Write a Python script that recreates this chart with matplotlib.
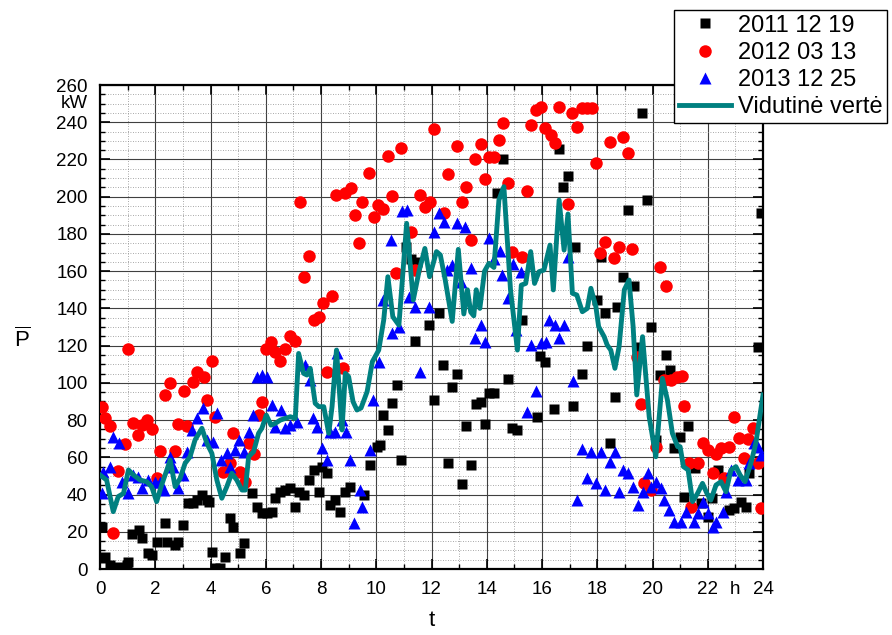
import matplotlib
matplotlib.use("Agg")
import matplotlib.pyplot as plt
from matplotlib.ticker import MultipleLocator
from matplotlib.lines import Line2D

plt.rcParams['font.family'] = ['Liberation Sans', 'DejaVu Sans']
plt.rcParams['mathtext.fontset'] = 'custom'
plt.rcParams['mathtext.rm'] = 'Liberation Sans'

# ---- data (t in h, P in kW) ----
t_2011 = [0.06, 0.12, 0.18, 0.36, 0.66, 0.97, 1.03, 1.15, 1.4, 1.51, 1.75, 1.87, 2.05, 2.36, 2.42, 2.72, 2.84,
          3.02, 3.2, 3.38, 3.5, 3.69, 3.87, 3.93, 4.05, 4.17, 4.35, 4.53, 4.71, 4.83, 5.08, 5.2, 5.5, 5.68, 5.86,
          6.04, 6.22, 6.34, 6.53, 6.71, 6.89, 7.07, 7.19, 7.37, 7.55, 7.73, 7.92, 8.04, 8.22, 8.34, 8.52, 8.7,
          8.88, 9.06, 9.55, 9.77, 10.03, 10.13, 10.25, 10.42, 10.58, 10.76, 10.9, 11.09, 11.24, 11.42, 11.46,
          11.92, 12.09, 12.27, 12.42, 12.59, 12.75, 12.91, 13.09, 13.26, 13.44, 13.6, 13.78, 13.92, 14.08, 14.26,
          14.38, 14.6, 14.77, 14.92, 15.1, 15.29, 15.83, 15.93, 16.1, 16.44, 16.62, 16.77, 16.94, 17.12, 17.21,
          17.46, 17.62, 18.0, 18.13, 18.27, 18.46, 18.63, 18.73, 18.95, 19.1, 19.33, 19.48, 19.61, 19.8, 19.96,
          20.12, 20.28, 20.48, 20.63, 20.79, 20.99, 21.15, 21.29, 21.53, 21.75, 22.0, 22.17, 22.36, 22.78,
          22.96, 23.2, 23.38, 23.5, 23.81, 23.93]
p_2011 = [22.7, 5.7, 6.6, 2.1, 1.3, 2.1, 3.9, 19, 21, 16.5, 8.4, 7.5, 14.7, 24.5, 14.7, 12.9, 14.7,
          23.6, 35.3, 35.3, 37, 39.7, 37, 36, 9.3, 0.5, 0.5, 6.6, 27.2, 22.7, 8.4, 13.8, 40.6, 33.5, 29.9,
          29.9, 30.8, 38, 41.5, 42.4, 43.3, 33.5, 41.5, 39.7, 47.8, 53.2, 41.5, 55, 51.4, 34.4, 37, 30.8,
          41.5, 44.2, 39.7, 55.9, 65.7, 66.6, 82.7, 74.7, 89, 98.8, 58.5, 173.1, 166.3, 122.6, 165,
          131, 90.8, 137.7, 109.6, 56.8, 97.6, 104.7, 45.7, 76.8, 55.9, 88.6, 89.9, 77.9, 94.7, 94.7,
          202.1, 220, 101.9, 75.9, 74.7, 134, 81.8, 114.4, 111.4, 85.8, 225.4, 205, 211.3, 87.6, 172.8,
          104.7, 119.8, 144.5, 167.8, 137.7, 67.9, 92.6, 140.6, 157, 192.8, 152, 119.4, 245.1, 198.2, 130.2,
          69.3, 104.2, 115, 106.9, 64.8, 71.1, 38.9, 76.8, 54.1, 35.3, 28.1, 38, 53.2, 31.7,
          32.6, 36.2, 33.5, 51.4, 119.4, 191]

t_2012 = [0.06, 0.18, 0.36, 0.48, 0.66, 0.91, 1.03, 1.21, 1.39, 1.51, 1.69, 1.87, 2.05, 2.18, 2.36, 2.54, 2.72,
          2.84, 3.05, 3.14, 3.36, 3.5, 3.75, 3.87, 4.05, 4.17, 4.47, 4.71, 4.83, 5.08, 5.26, 5.38, 5.56, 5.74,
          5.86, 6.0, 6.19, 6.34, 6.53, 6.71, 6.86, 7.07, 7.23, 7.37, 7.55, 7.73, 7.92, 8.06, 8.22, 8.4, 8.56,
          8.8, 8.88, 9.09, 9.24, 9.37, 9.5, 9.73, 9.91, 10.07, 10.25, 10.42, 10.57, 10.73, 10.9, 11.24, 11.42,
          11.58, 11.76, 11.93, 12.08, 12.45, 12.58, 12.91, 13.09, 13.26, 13.42, 13.58, 13.78, 13.92, 14.08,
          14.26, 14.44, 14.6, 14.77, 14.92, 15.29, 15.44, 15.59, 15.77, 15.95, 16.11, 16.31, 16.46, 16.62,
          16.94, 17.1, 17.28, 17.46, 17.64, 17.82, 17.95, 18.1, 18.28, 18.46, 18.61, 18.79, 18.95, 19.12,
          19.25, 19.43, 19.58, 19.7, 19.94, 20.12, 20.28, 20.42, 20.48, 20.66, 20.88, 21.05, 21.15, 21.33,
          21.39, 21.63, 21.81, 22.0, 22.18, 22.3, 22.48, 22.6, 22.78, 22.96, 23.14, 23.3, 23.44, 23.62,
          23.81, 23.93]
p_2012 = [87.2, 80.9, 76.8, 19.5, 52.8, 67, 118, 78.6, 72, 77.3, 80, 75, 48.7, 63.6, 93.5, 100, 63.6,
          77.9, 95.8, 76.8, 100.6, 106, 103.3, 90.8, 111.9, 81.8, 52.3, 56.8, 72.9, 52.3, 46.9, 67.5, 61.8, 82.7,
          89.9, 118, 122.1, 116.7, 111.9, 118, 125.2, 122.6, 197, 157, 168, 133.7, 135.2, 143, 106, 146.8, 200.9,
          107.8, 201.8, 204.5, 190, 175, 197.2, 212.9, 189.3, 195.5, 193.2, 222, 200.4, 158.8, 226.3, 181.2, 160.6,
          200.9, 194.6, 197.3, 236.3, 191, 212.2, 227.2, 197.3, 205.4, 176.7, 220.2, 228.3, 209.5, 221.5,
          221.5, 230.4, 239.4, 207.2, 170.5, 167.8, 203.2, 238.5, 246.6, 248.3, 236.7, 233.1, 228.6, 248.3,
          196.1, 245.1, 237.6, 247.4, 247.4, 247.4, 218.3, 169.9, 175.8, 229.5, 166.9, 173.1, 232.2, 223.3,
          171.7, 114, 88.6, 46, 42.4, 65.7, 162.4, 101.5, 152, 101.5, 103.3, 103.7, 87.6, 56.8,
          33.5, 56.8, 67.5, 63.9, 51.7, 61.8, 64.8, 48.7, 65.7, 81.8, 70.2, 59.8, 69.6, 75.6,
          56.8, 32.6]

t_2013 = [0.06, 0.12, 0.36, 0.48, 0.7, 0.79, 1.03, 1.21, 1.39, 1.51, 1.75, 1.99, 2.18, 2.3, 2.54, 2.66, 2.84,
          3.02, 3.14, 3.32, 3.5, 3.72, 3.87, 4.08, 4.23, 4.39, 4.59, 4.69, 4.89, 5.02, 5.2, 5.38, 5.53, 5.68,
          5.86, 6.04, 6.22, 6.34, 6.55, 6.71, 6.89, 7.13, 7.43, 7.59, 7.71, 7.86, 8.04, 8.22, 8.34, 8.52, 8.58,
          8.76, 8.9, 9.04, 9.21, 9.4, 9.5, 9.77, 9.89, 10.09, 10.23, 10.54, 10.58, 10.82, 10.92, 11.1, 11.19,
          11.42, 11.58, 11.9, 12.08, 12.27, 12.45, 12.57, 12.75, 12.91, 13.05, 13.23, 13.42, 13.56, 13.78,
          13.92, 14.08, 14.26, 14.48, 14.56, 14.77, 14.96, 15.05, 15.25, 15.44, 15.59, 15.77, 15.95, 16.13,
          16.27, 16.46, 16.62, 16.8, 16.94, 17.12, 17.28, 17.43, 17.62, 17.79, 17.95, 18.13, 18.27, 18.46,
          18.63, 18.79, 18.95, 19.1, 19.28, 19.46, 19.64, 19.82, 19.94, 20.12, 20.3, 20.42, 20.6, 20.79,
          21.03, 21.21, 21.49, 21.63, 21.81, 22.0, 22.18, 22.3, 22.54, 22.66, 22.84, 23.08, 23.38, 23.5,
          23.68, 23.81, 23.93]
p_2013 = [41, 52.3, 55, 71, 67.5, 46.9, 41, 50.5, 49.6, 43.3, 47.8, 46.9, 46.9, 42.4, 60.3, 55, 43.3,
          50.5, 63, 74.7, 80.9, 86.3, 69.3, 68.4, 83.6, 58.5, 62.1, 55, 63.9, 69.3, 63, 73.8, 82.7, 103.3,
          104.2, 103.3, 88, 76.5, 85.4, 75.6, 77.3, 79.1, 109.6, 101.5, 80.9, 76.5, 64.8, 58.5, 73.8, 73.8, 115.8,
          80, 73.5, 58.5, 24.5, 42.4, 33.5, 63.9, 90.8, 111.4, 144.5, 176.7, 126.6, 130.2, 192.5, 192.8, 146.3,
          141, 106, 141, 181.2, 191, 186.6, 160.6, 163.3, 185.7, 154.3, 183.9, 161.5, 123.9, 131,
          122.1, 177.6, 166.3, 171, 157.9, 145.4, 163.8, 128.4, 159.7, 84.5, 120.3, 95.8, 121.2, 122.1,
          133.7, 131, 123.9, 131, 167.4, 101.2, 37, 64.3, 48.7, 63, 46, 63, 42.4, 57.7,
          63, 41.5, 53.2, 51.4, 44.2, 34.4, 41.5, 51.4, 44.2, 46.9, 43.3, 37, 31.7, 25.4,
          25.4, 30.8, 25.4, 29.9, 36.2, 29.9, 22.7, 25.4, 30.8, 41.5, 53.2, 47.8, 47.8, 56.8,
          67.5, 65.7, 61.2]

t_mean = [0, 0.24, 0.48, 0.66, 0.85, 1.03, 1.21, 1.45, 1.69, 1.87, 2.05, 2.23, 2.42, 2.54, 2.72, 2.9, 3.08,
          3.26, 3.44, 3.69, 3.87, 4.05, 4.23, 4.41, 4.59, 4.77, 4.95, 5.14, 5.26, 5.38, 5.56, 5.74, 5.86, 6.02,
          6.19, 6.34, 6.53, 6.71, 6.89, 7.07, 7.19, 7.37, 7.49, 7.61, 7.79, 7.92, 8.1, 8.28, 8.4, 8.56, 8.68,
          8.76, 8.88, 9.0, 9.16, 9.3, 9.45, 9.67, 9.86, 10.09, 10.27, 10.42, 10.6, 10.82, 11.1, 11.34, 11.55,
          11.76, 11.93, 12.18, 12.32, 12.5, 12.75, 12.97, 13.17, 13.3, 13.42, 13.53, 13.62, 13.75, 13.92,
          14.08, 14.26, 14.44, 14.62, 14.86, 15.11, 15.25, 15.41, 15.59, 15.73, 15.89, 16.07, 16.29, 16.41,
          16.62, 16.8, 16.94, 17.1, 17.26, 17.46, 17.64, 17.77, 17.95, 18.05, 18.25, 18.36, 18.49, 18.64,
          18.79, 18.98, 19.15, 19.3, 19.43, 19.64, 19.88, 20.12, 20.36, 20.54, 20.72, 20.91, 21.0, 21.12,
          21.29, 21.45, 21.63, 21.81, 21.97, 22.11, 22.3, 22.48, 22.66, 22.84, 23.02, 23.17, 23.35, 23.56,
          23.74, 24.0]
p_mean = [50.5, 47.8, 30.8, 38.9, 40.6, 53.2, 50.5, 47.8, 46.9, 44.2, 36.2, 45.1, 53.2, 58.5, 44.2, 48.7, 56.8,
          60.3, 69.3, 75.6, 67.5, 62.1, 47.8, 38, 44.2, 51.4, 47.8, 42.4, 42.4, 60.3, 63, 72.9, 75.6, 82.7,
          77.3, 78.2, 80, 80.9, 81.8, 80.9, 115.8, 105.1, 104.2, 107.8, 89, 87.2, 87.2, 72.9, 87.2, 117.6, 92.6,
          74.7, 105.1, 103.3, 89.9, 85.4, 86.5, 95.3, 111.4, 117.6, 133.7, 157, 135.5, 131, 185.7, 144.5, 160,
          172.2, 157, 170.5, 168.7, 155, 133, 171.7, 137, 150, 138, 136, 150, 140, 160,
          164.2, 162, 198.2, 205.4, 149.9, 117.6, 152.5, 153.4, 170.5, 153.4, 159.7, 160.6, 174, 149.9,
          198.2, 171.3, 190.7, 148.1, 147.2, 138.2, 140, 150.8, 140.9, 130.2, 124.8, 120.3, 117.6, 107.8,
          119.4, 150, 155.2, 130, 93.5, 124.8, 81.8, 60.3, 102.4, 90.8, 72.9, 65.7, 65.7, 55,
          53.2, 36.2, 40.6, 46, 40.6, 37, 45.1, 46.9, 41.5, 53.2, 55, 50.5, 46.9, 56.8,
          67.5, 93.5]

labels = ['2011 12 19', '2012 03 13', '2013 12 25', 'Vidutinė vertė']
x_ticks = list(range(0, 25, 2))
y_ticks = list(range(0, 261, 20))

# ---- figure ----
fig = plt.figure(figsize=(8.92, 6.35), dpi=100)
ax = fig.add_axes([100 / 892, 1 - 569 / 635, 663 / 892, 484 / 635])

ax.plot(t_2011, p_2011, 's', color='black', ms=7, mec='none', zorder=3)
ax.plot(t_2012, p_2012, 'o', color='red', ms=9, mec='none', zorder=4)
ax.plot(t_2013, p_2013, '^', color='blue', ms=9, mec='none', zorder=5)
ax.plot(t_mean, p_mean, '-', color='#008080', lw=3.5, zorder=6)

ax.set_xlim(0, 24)
ax.set_ylim(0, 260)
ax.set_xticks(x_ticks)
ax.set_yticks(y_ticks)
ax.xaxis.set_minor_locator(MultipleLocator(1))
ax.yaxis.set_minor_locator(MultipleLocator(5))
ax.set_axisbelow(True)
ax.grid(which='major', color='0.25', lw=0.8, ls='-')
ax.grid(which='minor', color='0.55', lw=0.6, ls=(0, (1, 2)))
ax.tick_params(which='both', direction='in', top=True, right=True, labelsize=13.5)
ax.tick_params(which='major', length=7, width=1.2, pad=9)
ax.tick_params(which='minor', length=3.5, width=1)
for s in ax.spines.values():
    s.set_linewidth(1.6)

# unit labels in tick-label rows
ax.text(23, -0.025, 'h', transform=ax.get_xaxis_transform(), ha='center', va='top', fontsize=13.5)
ax.text(-0.018, 250, 'kW', transform=ax.get_yaxis_transform(), ha='right', va='center', fontsize=13.5)

ax.set_xlabel('t', fontsize=16, labelpad=8)
fig.text(22 / 892, 1 - 340 / 635, r'$\overline{\mathrm{P}}$', fontsize=16, ha='center', va='center')

handles = [Line2D([], [], ls='none', marker='s', color='black', ms=7, mec='none'),
           Line2D([], [], ls='none', marker='o', color='red', ms=9, mec='none'),
           Line2D([], [], ls='none', marker='^', color='blue', ms=9, mec='none'),
           Line2D([], [], color='#008080', lw=3.5)]
leg = fig.legend(handles, labels, loc='upper right', bbox_to_anchor=(887 / 892, 1 - 10 / 635),
                 fontsize=17, frameon=True, fancybox=False, edgecolor='black', framealpha=1,
                 borderpad=0.2, labelspacing=0.22, handlelength=2.2, handletextpad=0.3, borderaxespad=0)
leg.get_frame().set_linewidth(1.0)
leg.set_zorder(10)

fig.savefig('out.png', dpi=100)
